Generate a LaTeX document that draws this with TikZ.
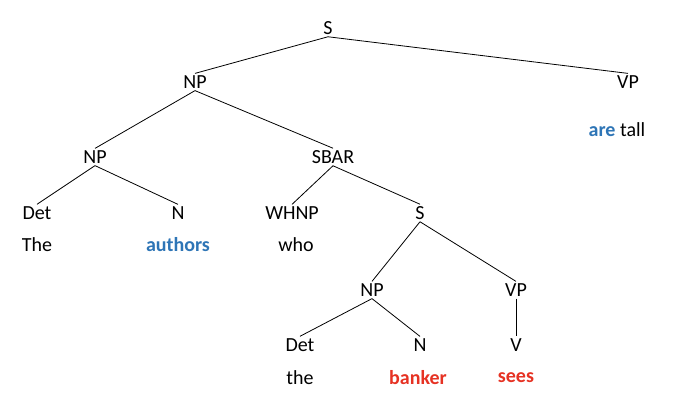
\documentclass[tikz,border=0pt]{standalone}
\usepackage{fontspec}
\setmainfont{Carlito}
\usetikzlibrary{positioning}
\definecolor{hlblue}{RGB}{46,117,182}
\definecolor{hlred}{RGB}{230,50,35}
\begin{document}
\begin{tikzpicture}
    [
        x=1pt, y=-1pt,
        cat/.style={inner sep=2pt, font=\fontsize{20}{24}\selectfont},
        branch/.style={line width=0.8pt, color=black},
    ]
        \useasboundingbox (0,0) rectangle (678,410);
        \node[cat] (s) at (328,28) {S} ;
        \node[cat] (np) at (195,82) {NP} ;
        \node[cat] (vp) at (628,82) {VP} ;
        \node[cat] (aretall) at (617,130) {\textcolor{hlblue}{\textbf{are}} tall} ;
        \node[cat] (np1) at (95,157) {NP} ;
        \node[cat] (sbar) at (333,157) {SBAR} ;
        \node[cat] (det1) at (37,213) {Det} ;
        \node[cat] (n1) at (178,213) {N} ;
        \node[cat] (whnp) at (292,213) {WHNP} ;
        \node[cat] (s1) at (420,213) {S} ;
        \node[cat] (the1) at (37,245) {The} ;
        \node[cat, text=hlblue, font=\fontsize{20}{24}\selectfont\bfseries] (authors) at (178,245) {authors} ;
        \node[cat] (who) at (296,245) {who} ;
        \node[cat] (np2) at (372,290) {NP} ;
        \node[cat] (vp2) at (516,290) {VP} ;
        \node[cat] (det2) at (300,345) {Det} ;
        \node[cat] (n2) at (420,345) {N} ;
        \node[cat] (v) at (516,345) {V} ;
        \node[cat] (the2) at (300,378) {the} ;
        \node[cat, text=hlred, font=\fontsize{20}{24}\selectfont\bfseries] (banker) at (418,378) {banker} ;
        \node[cat, text=hlred, font=\fontsize{20}{24}\selectfont\bfseries] (sees) at (516,378) {sees} ;
        \draw[branch] (s.south) to (np.north) ;
        \draw[branch] (s.south) to (vp.north) ;
        \draw[branch] (np.south) to (np1.north) ;
        \draw[branch] (np.south) to (sbar.north) ;
        \draw[branch] (np1.south) to (det1.north) ;
        \draw[branch] (np1.south) to (n1.north) ;
        \draw[branch] (sbar.south) to (whnp.north) ;
        \draw[branch] (sbar.south) to (s1.north) ;
        \draw[branch] (s1.south) to (np2.north) ;
        \draw[branch] (s1.south) to (vp2.north) ;
        \draw[branch] (np2.south) to (det2.north) ;
        \draw[branch] (np2.south) to (n2.north) ;
        \draw[branch] (vp2.south) to (v.north) ;
\end{tikzpicture}
\end{document}
